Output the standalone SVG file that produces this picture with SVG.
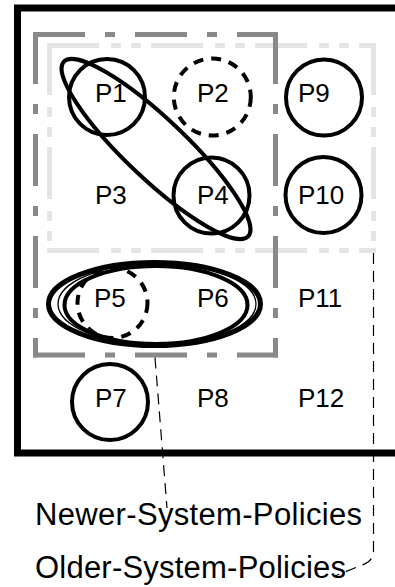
<svg xmlns="http://www.w3.org/2000/svg" width="395" height="587" viewBox="0 0 395 587">
<style>
.lbl{font-family:"Liberation Sans",Arial,sans-serif;font-size:26px;fill:#000}
.big{font-family:"Liberation Sans",Arial,sans-serif;font-size:31px;fill:#000}
.c{fill:none;stroke:#000;stroke-width:4}
.cd{fill:none;stroke:#000;stroke-width:4;stroke-dasharray:10 8}
.dg{fill:none;stroke:#898989;stroke-width:5;stroke-dasharray:52 20 10 20}
.lg{fill:none;stroke:#e4e4e4;stroke-width:5;stroke-dasharray:52 12 10 10 10 10}
.ld{fill:none;stroke:#000;stroke-width:1.2;stroke-dasharray:11 7}
</style>
<rect width="395" height="587" fill="#fff"/>
<g id="frame">
<rect x="17.5" y="8" width="420" height="445" fill="none" stroke="#000" stroke-width="7"/>
</g>
<g id="older-system-policies-region">
<path class="lg" d="M47,45.5 H376"/>
<path class="lg" d="M47,250.5 H376"/>
<path class="lg" d="M49.5,43 V253"/>
<path class="lg" d="M373.5,43 V253"/>
</g>
<g id="newer-system-policies-region">
<path class="dg" d="M33,34.5 H278"/>
<path class="dg" d="M33,355 H278"/>
<path class="dg" d="M35.5,32 V357.5"/>
<path class="dg" d="M275.5,32 V357.5"/>
</g>
<g id="group-P1-P4">
<ellipse cx="156" cy="149" rx="127" ry="30" transform="rotate(43.5 156 149)" fill="none" stroke="#000" stroke-width="4"/>
</g>
<g id="group-P5-P6">
<ellipse cx="154.5" cy="304" rx="106" ry="41.5" fill="none" stroke="#000" stroke-width="5"/>
<ellipse cx="157" cy="304" rx="99" ry="40.5" fill="none" stroke="#000" stroke-width="1.3"/>
<ellipse cx="156" cy="305" rx="91.5" ry="39" fill="none" stroke="#000" stroke-width="4"/>
</g>
<g id="P1"><circle class="c" cx="107" cy="97" r="38"/><text class="lbl" x="95" y="102">P1</text></g>
<g id="P2"><circle class="cd" cx="212.3" cy="97" r="38.5"/><text class="lbl" x="197" y="102">P2</text></g>
<g id="P9"><circle class="c" cx="324" cy="97.5" r="38"/><text class="lbl" x="298" y="102">P9</text></g>
<g id="P3"><text class="lbl" x="95" y="204">P3</text></g>
<g id="P4"><circle class="c" cx="211.5" cy="195.5" r="38"/><text class="lbl" x="197" y="204">P4</text></g>
<g id="P10"><circle class="c" cx="323.5" cy="195" r="38"/><text class="lbl" x="298" y="204">P10</text></g>
<g id="P5"><circle class="cd" cx="112.5" cy="303" r="35"/><text class="lbl" x="94" y="307">P5</text></g>
<g id="P6"><text class="lbl" x="197" y="307">P6</text></g>
<g id="P11"><text class="lbl" x="298" y="307">P11</text></g>
<g id="P7"><circle class="c" cx="110" cy="402" r="38"/><text class="lbl" x="95" y="407">P7</text></g>
<g id="P8"><text class="lbl" x="197" y="407">P8</text></g>
<g id="P12"><text class="lbl" x="298" y="407">P12</text></g>
<g id="connectors">
<path class="ld" d="M155,357.5 L167,508"/>
<path class="ld" d="M373.5,253 V550 Q374,561 362,565 L335,576"/>
</g>
<g id="label-newer"><text class="big" x="35" y="525" textLength="327">Newer-System-Policies</text></g>
<g id="label-older"><text class="big" x="35" y="578" textLength="311">Older-System-Policies</text></g>
</svg>
